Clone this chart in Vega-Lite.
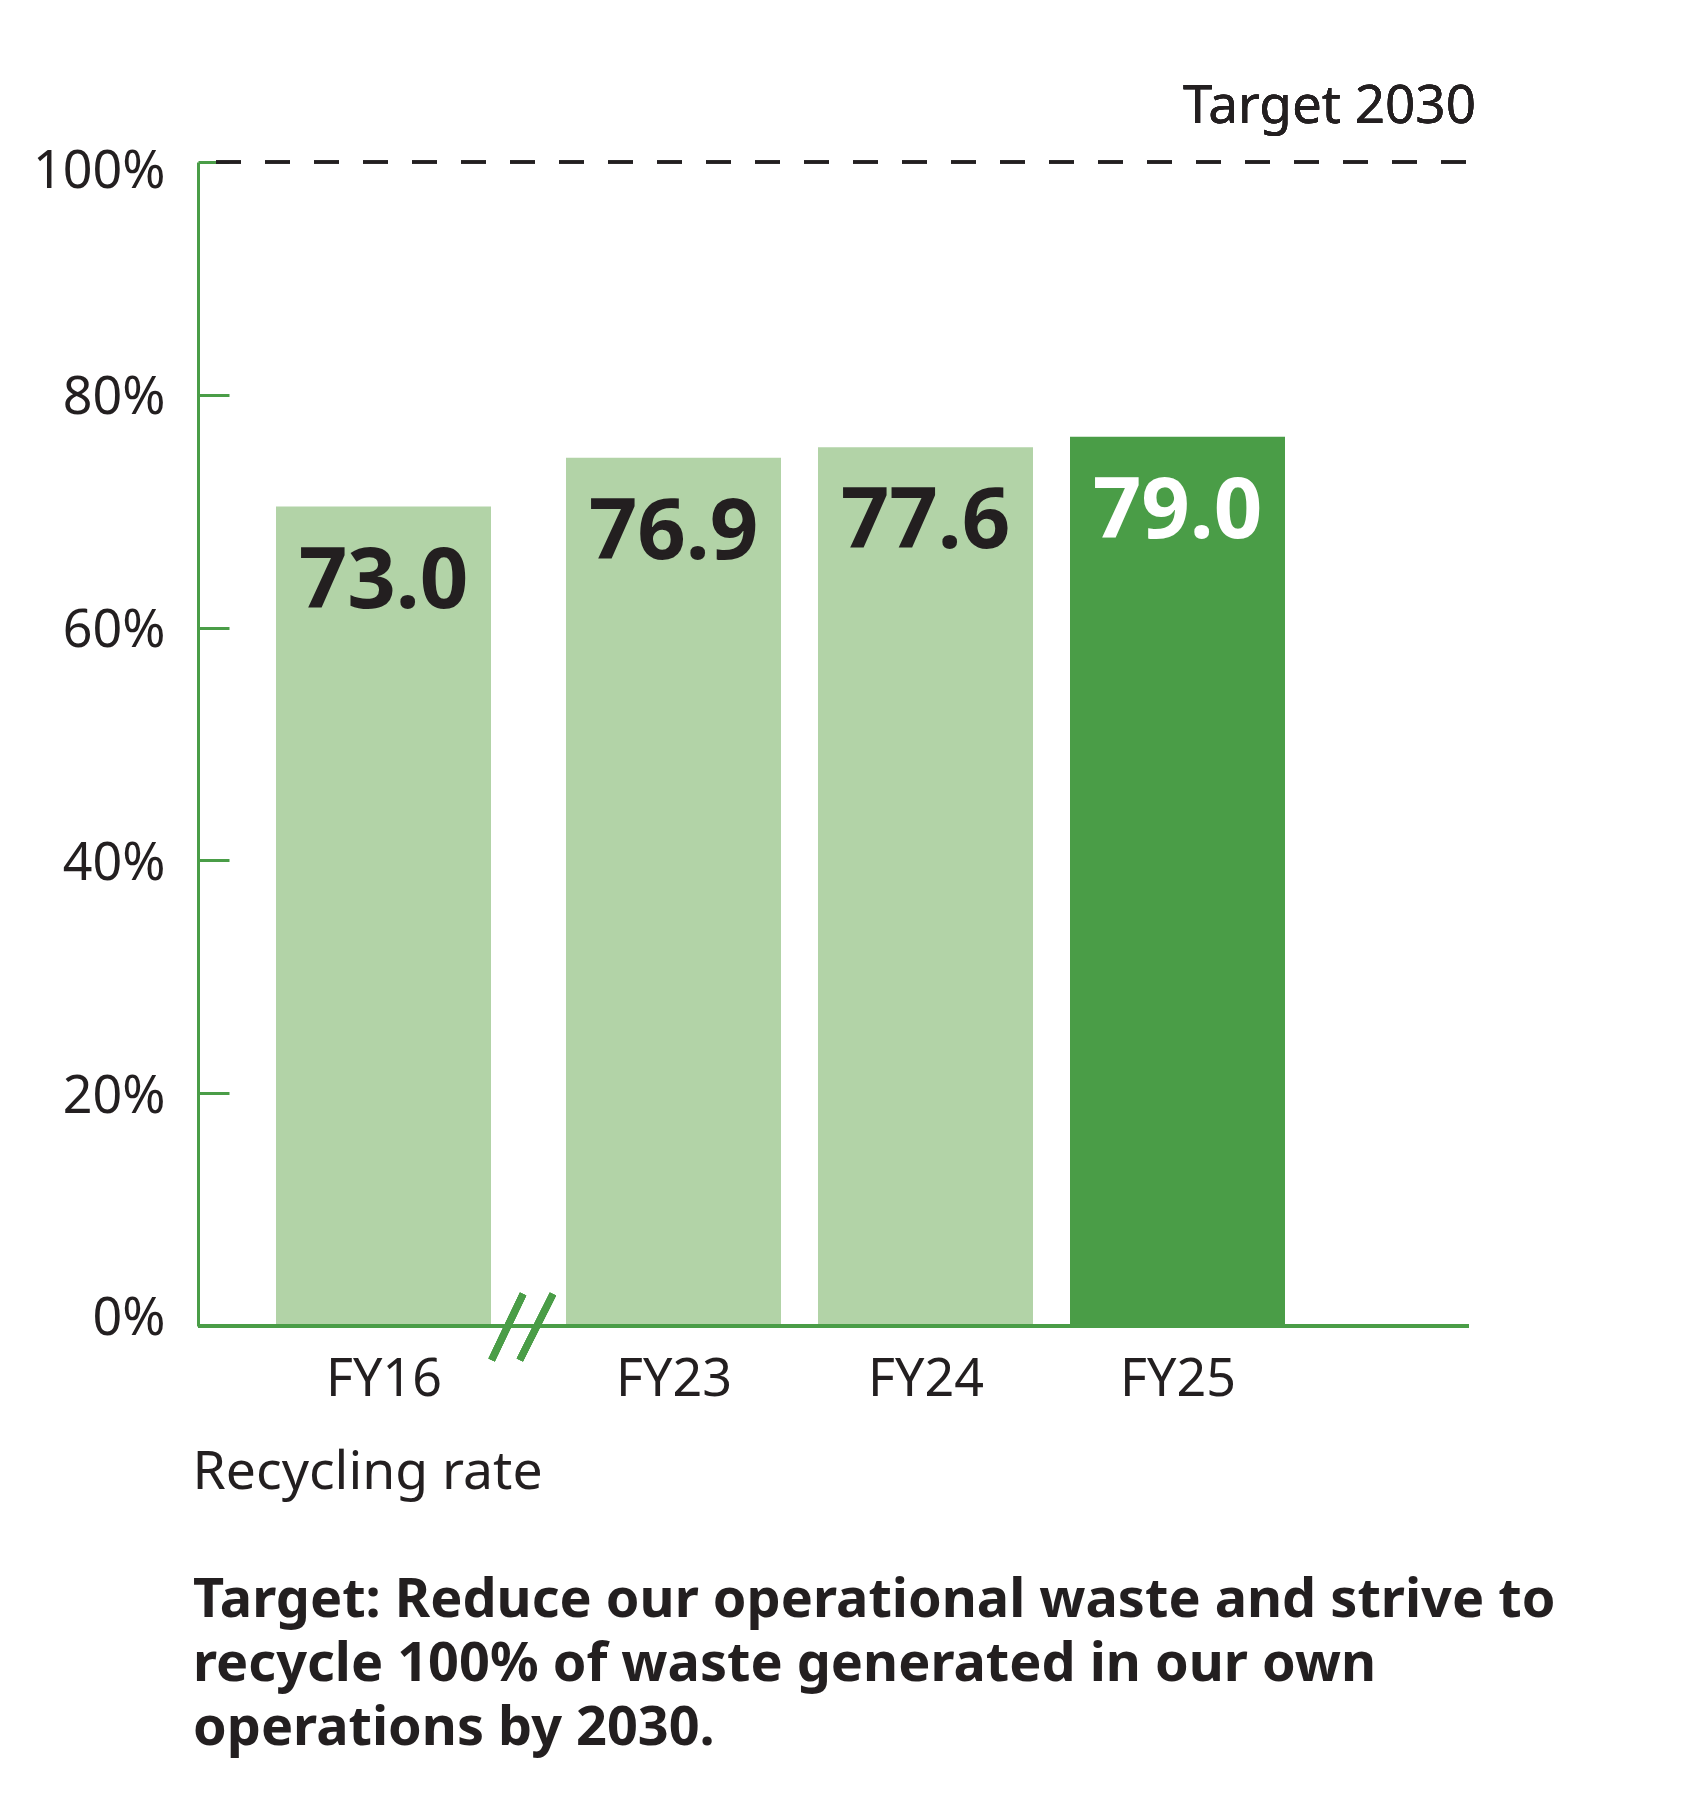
{
  "$schema": "https://vega.github.io/schema/vega-lite/v6.json",
  "autosize": "none",
  "width": 1271,
  "height": 1164,
  "padding": {"left": 198, "top": 162, "right": 231, "bottom": 486},
  "background": "white",
  "config": {"view": {"stroke": null}, "font": "Noto Sans"},
  "title": {
    "text": ["Target: Reduce our operational waste and strive to", "recycle 100% of waste generated in our own", "operations by 2030."],
    "orient": "bottom",
    "anchor": "start",
    "frame": "group",
    "font": "Noto Sans",
    "fontSize": 54,
    "fontWeight": "bold",
    "color": "#231f20",
    "lineHeight": 64,
    "baseline": "top",
    "offset": 75,
    "dx": -5
  },
  "data": {
    "values": [
      {"year": 2016, "period": "FY16", "bar": 70.4, "label": "73.0"},
      {"year": 2023, "period": "FY23", "bar": 74.6, "label": "76.9"},
      {"year": 2024, "period": "FY24", "bar": 75.5, "label": "77.6"},
      {"year": 2025, "period": "FY25", "bar": 76.4, "label": "79.0"}
    ]
  },
  "encoding": {
    "x": {
      "field": "year",
      "type": "quantitative",
      "scale": {"domain": [2016, 2023, 2025], "range": [185.5, 475.5, 979.5], "nice": false, "zero": false, "padding": 0},
      "axis": {
        "values": [2016, 2023, 2024, 2025],
        "labelExpr": "'FY' + (datum.value - 2000)",
        "labelFlush": false,
        "labelOverlap": false,
        "domain": false,
        "ticks": false,
        "grid": false,
        "labelFont": "Noto Sans",
        "labelFontSize": 52,
        "labelColor": "#231f20",
        "labelBaseline": "alphabetic",
        "labelPadding": 69,
        "title": "Recycling rate",
        "titleFont": "Noto Sans",
        "titleFontSize": 53.5,
        "titleFontWeight": "normal",
        "titleColor": "#231f20",
        "titleAnchor": "start",
        "titleAlign": "left",
        "titleBaseline": "alphabetic",
        "titleX": -6,
        "titleY": 162
      }
    },
    "y": {
      "field": "bar",
      "type": "quantitative",
      "scale": {"domain": [0, 100], "nice": false},
      "axis": {
        "values": [0, 20, 40, 60, 80, 100],
        "labelExpr": "datum.value + '%'",
        "title": null,
        "grid": false,
        "domainColor": "#4a9d47",
        "domainWidth": 3,
        "tickColor": "#4a9d47",
        "tickWidth": 3,
        "tickSize": -31,
        "labelPadding": 64,
        "labelFont": "Noto Sans",
        "labelFontSize": 52,
        "labelColor": "#231f20",
        "labelBaseline": "alphabetic",
        "labelOffset": {
          "condition": [
            {"test": "datum.value === 100", "value": 25},
            {"test": "datum.value === 0", "value": 8}
          ],
          "value": 19
        }
      }
    }
  },
  "layer": [
    {
      "mark": {"type": "bar", "width": 215},
      "encoding": {
        "color": {
          "condition": {"test": "datum.year === 2025", "value": "#4a9d47"},
          "value": "#b2d3a7"
        }
      }
    },
    {
      "mark": {"type": "rule", "color": "#4a9d47", "strokeWidth": 4},
      "encoding": {"x": null, "y": {"datum": 0}}
    },
    {
      "mark": {"type": "rule", "color": "#231f20", "strokeWidth": 3, "strokeDash": [25, 24], "strokeDashOffset": 46},
      "encoding": {"x": null, "y": {"datum": 100}}
    },
    {
      "mark": {"type": "rule", "color": "#4a9d47", "strokeWidth": 7},
      "encoding": {
        "x": {"datum": 2018.61},
        "x2": {"datum": 2019.37},
        "y": {"datum": -2.92},
        "y2": {"datum": 2.75}
      }
    },
    {
      "mark": {"type": "rule", "color": "#4a9d47", "strokeWidth": 7},
      "encoding": {
        "x": {"datum": 2019.29},
        "x2": {"datum": 2020.09},
        "y": {"datum": -2.92},
        "y2": {"datum": 2.75}
      }
    },
    {
      "mark": {"type": "text", "font": "Noto Sans", "fontSize": 85, "fontWeight": "bold", "baseline": "alphabetic", "align": "center", "dy": 101},
      "encoding": {
        "text": {"field": "label"},
        "color": {
          "condition": {"test": "datum.year === 2025", "value": "#ffffff"},
          "value": "#231f20"
        }
      }
    },
    {
      "mark": {"type": "text", "text": "Target 2030", "font": "Noto Sans", "fontSize": 53, "align": "right", "baseline": "alphabetic", "dx": 7, "dy": -39, "color": "#231f20"},
      "encoding": {"x": {"value": "width"}, "y": {"datum": 100}}
    }
  ]
}
